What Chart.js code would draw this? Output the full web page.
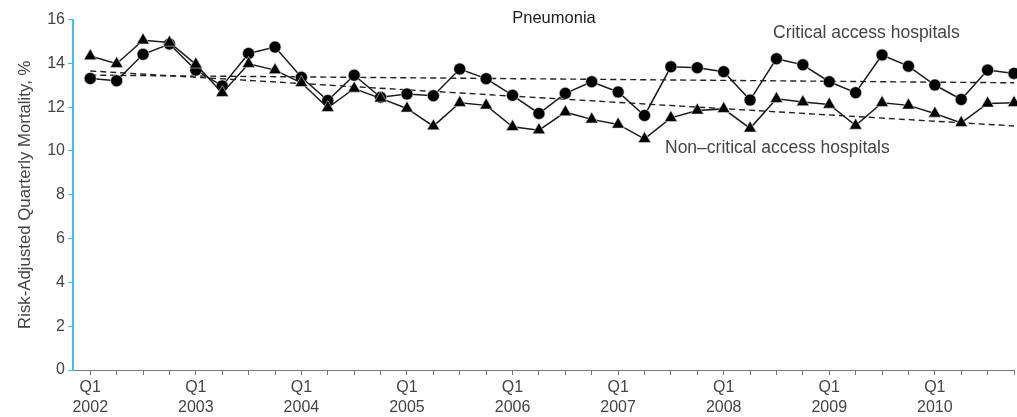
<!DOCTYPE html>
<html>
<head>
<meta charset="utf-8">
<script src="https://cdn.jsdelivr.net/npm/chart.js@4.4.1/dist/chart.umd.min.js"></script>
<style>
  html, body { margin: 0; padding: 0; background: #fff; }
  #wrap { width: 1017px; height: 417px; position: relative; }
</style>
</head>
<body>
<div id="wrap"><canvas id="c" width="1017" height="417"></canvas></div>
<script>
const years = ['2002','2003','2004','2005','2006','2007','2008','2009','2010'];
const quarterIndex = Array.from({length: 36}, (_, i) => i);
const critical = [13.31,13.20,14.41,14.88,13.69,12.97,14.45,14.74,13.36,12.30,13.46,12.45,
                  12.60,12.52,13.74,13.30,12.54,11.71,12.63,13.16,12.69,11.62,13.84,13.80,
                  13.62,12.32,14.21,13.93,13.16,12.66,14.38,13.87,13.01,12.35,13.69,13.54];
const nonCritical = [14.33,13.98,15.05,14.95,13.95,12.65,13.98,13.69,13.11,11.97,12.85,12.40,
                     11.94,11.13,12.20,12.08,11.10,10.95,11.77,11.44,11.21,10.55,11.51,11.85,
                     11.92,11.03,12.38,12.23,12.12,11.16,12.20,12.08,11.71,11.28,12.17,12.20];
const trendQuarters = [0, 35.02];
const criticalTrend = [13.46, 13.11];
const nonCriticalTrend = [13.65, 11.14];
const yTicks = [0,2,4,6,8,10,12,14,16];

const FONT = "'Liberation Sans', Arial, Helvetica, sans-serif";
const TXT = '#444';

const toXY = (xs, ys) => ys.map((y, i) => ({x: xs[i], y}));

const labelPlugin = {
  id: 'labels',
  afterDraw(chart) {
    const ctx = chart.ctx;
    ctx.save();
    ctx.fillStyle = '#222';
    ctx.textBaseline = 'middle';
    ctx.font = '16.5px ' + FONT;
    ctx.textAlign = 'center';
    ctx.fillText('Pneumonia', 554, 18.5);
    ctx.font = '17.5px ' + FONT;
    ctx.fillStyle = TXT;
    ctx.textAlign = 'left';
    ctx.fillText('Critical access hospitals', 773, 33.5);
    ctx.fillText('Non\u2013critical access hospitals', 665, 148);
    ctx.restore();
  }
};

new Chart(document.getElementById('c'), {
  type: 'line',
  data: {
    datasets: [
      {
        label: 'Non-critical access hospitals',
        data: toXY(quarterIndex, nonCritical),
        borderColor: '#1a1a1a', borderWidth: 1.5,
        pointStyle: 'triangle', pointRadius: 7.3,
        pointBackgroundColor: '#000', pointBorderColor: '#ddd', pointBorderWidth: 0.6,
        order: 0, clip: false
      },
      {
        label: 'Critical access hospitals',
        data: toXY(quarterIndex, critical),
        borderColor: '#1a1a1a', borderWidth: 1.5,
        pointStyle: 'circle', pointRadius: 6,
        pointBackgroundColor: '#000', pointBorderColor: '#ddd', pointBorderWidth: 0.6,
        order: 1, clip: false
      },
      {
        label: 'Critical trend',
        data: toXY(trendQuarters, criticalTrend),
        borderColor: '#222', borderWidth: 1.4, borderDash: [6, 4],
        pointRadius: 0, order: 2
      },
      {
        label: 'Non-critical trend',
        data: toXY(trendQuarters, nonCriticalTrend),
        borderColor: '#222', borderWidth: 1.4, borderDash: [6, 4],
        pointRadius: 0, order: 2
      }
    ]
  },
  options: {
    responsive: false,
    animation: false,
    layout: { autoPadding: false, padding: { top: 19.5, left: 0, right: 0, bottom: 0 } },
    plugins: { legend: { display: false }, tooltip: { enabled: false }, title: { display: false } },
    elements: { line: { tension: 0 } },
    scales: {
      x: {
        type: 'linear',
        min: -0.654, max: 35.0,
        afterBuildTicks(scale) { scale.ticks = quarterIndex.map(v => ({value: v})); },
        afterFit(scale) { scale.height = 47; },
        border: { color: '#777', width: 1 },
        grid: { drawOnChartArea: false, drawTicks: true, tickLength: 5, tickColor: '#777' },
        ticks: {
          autoSkip: false, maxRotation: 0, padding: 3,
          color: TXT, font: { family: FONT, size: 16, lineHeight: 1.25 },
          callback: (v) => (v % 4 === 0 ? ['Q1', years[v / 4]] : '')
        }
      },
      y: {
        min: 0, max: 16,
        afterBuildTicks(scale) { scale.ticks = yTicks.map(v => ({value: v})); },
        afterFit(scale) { scale.width = 73; },
        border: { color: '#3fbff0', width: 2 },
        grid: { drawOnChartArea: false, drawTicks: true, tickLength: 5, tickColor: '#3fbff0' },
        ticks: { padding: 3, color: TXT, font: { family: FONT, size: 16 } },
        title: {
          display: true, text: 'Risk-Adjusted Quarterly Mortality, %',
          color: TXT, font: { family: FONT, size: 16.8 }, padding: { top: 15.5, bottom: 0 }
        }
      }
    }
  },
  plugins: [labelPlugin]
});
</script>
</body>
</html>
